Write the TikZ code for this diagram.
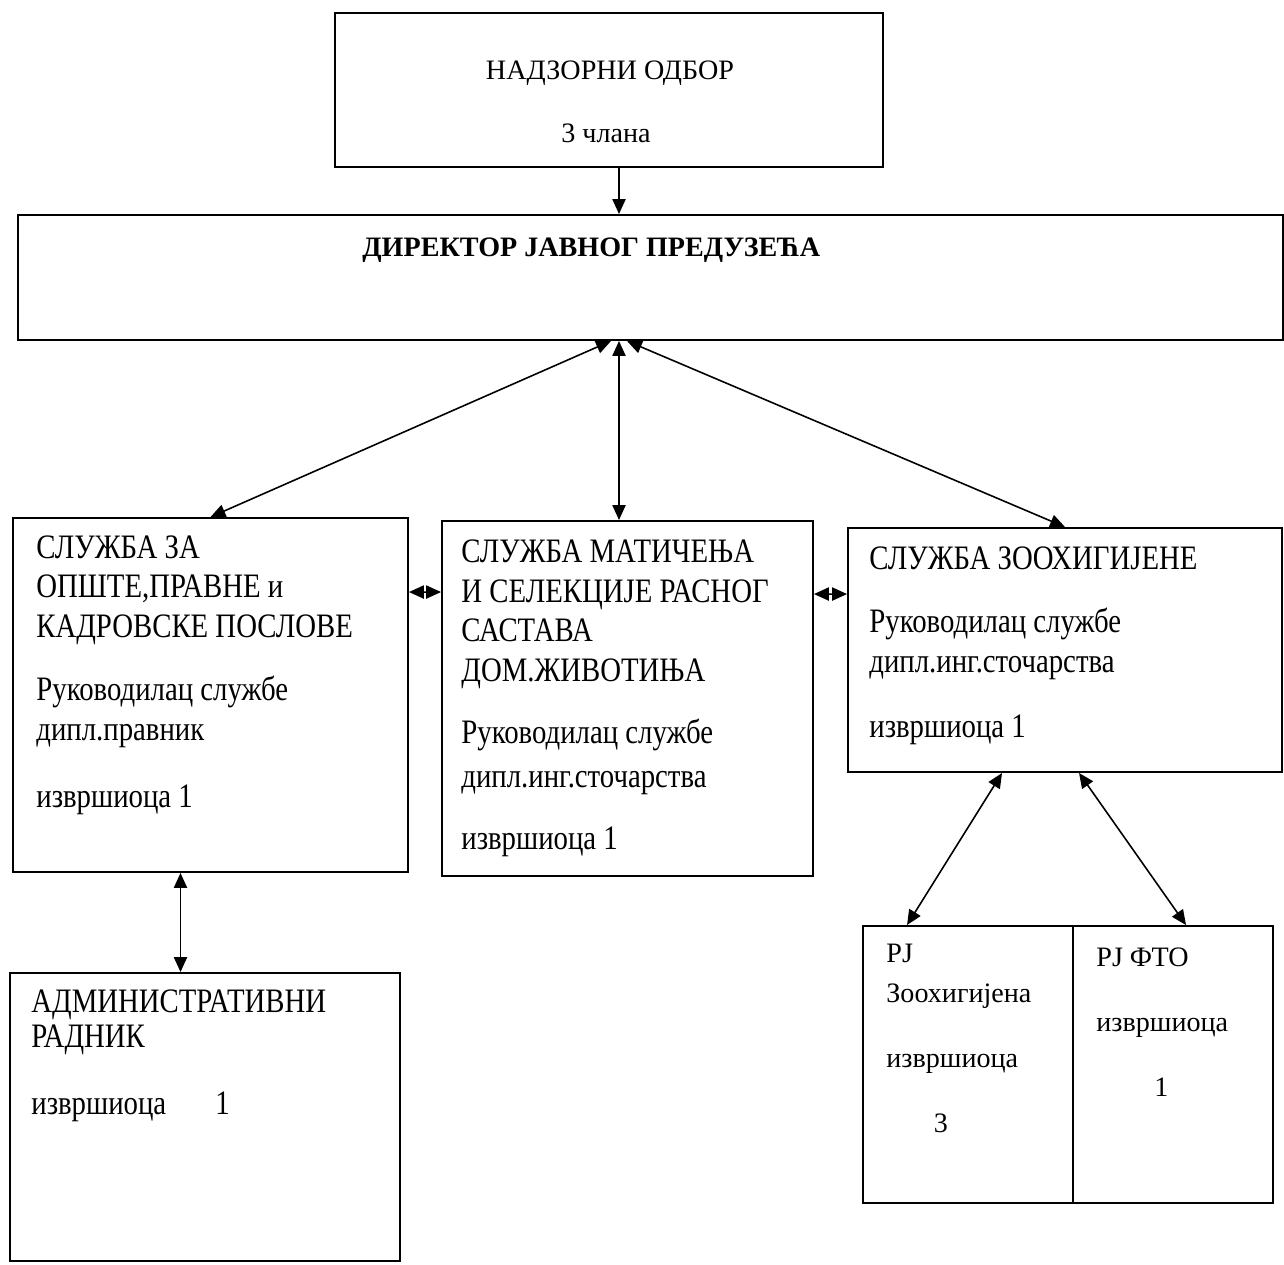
\documentclass[tikz,border=0pt]{standalone}
\usepackage{fontspec}
\setmainfont{Liberation Serif}
\newfontfamily\tallfont[FakeStretch=0.84]{Liberation Serif}
\usetikzlibrary{arrows.meta,fit}

\tikzset{
	box/.style={draw, line width=1.1pt, inner sep=0pt},
	txt/.style={inner sep=0pt, anchor=base west, align=left},
	unitfont/.style={font=\tallfont\fontsize{19.5}{22.5}\selectfont},
	pjfont/.style={font=\fontsize{16}{22.5}\selectfont},
	tip/.style={line width=0.9pt, -{Triangle[length=8.5pt,width=7.5pt]}},
	link/.style={line width=0.9pt, {Triangle[length=8.5pt,width=7.5pt]}-{Triangle[length=8.5pt,width=7.5pt]}}
}

\begin{document}
\begin{tikzpicture}[x=0.02cm, y=-0.02cm]
	\useasboundingbox (0,0) rectangle (1284,1264);
	\node[box, fit={(335,13) (883,167)}] (sup) {};
	\node[box, fit={(18,215) (1283,340)}] (dir) {};
	\node[box, fit={(13,518) (408,872)}] (ops) {};
	\node[box, fit={(442,521) (813,876)}] (mat) {};
	\node[box, fit={(848,528) (1282,772)}] (zoo) {};
	\node[box, fit={(10,973) (400,1261)}] (adm) {};
	\node[box, fit={(863,926) (1073,1203)}] (pja) {};
	\node[box, fit={(1073,926) (1273,1203)}] (pjb) {};

	\node[txt, pjfont, anchor=base] (supa) at ([shift={(1,67)}]sup.north) {НАДЗОРНИ ОДБОР};
	\node[txt, pjfont, anchor=base] (supb) at ([shift={(-3,130)}]sup.north) {3 члана};
	\node[txt, font=\bfseries\fontsize{16}{19}\selectfont] (dira) at ([shift={(345,42)}]dir.north west) {ДИРЕКТОР ЈАВНОГ ПРЕДУЗЕЋА};
	\node[txt, unitfont] (opsa) at ([shift={(24,290)}]ops.north west) {СЛУЖБА ЗА\\ОПШТЕ,ПРАВНЕ и\\КАДРОВСКЕ ПОСЛОВЕ\\[13.4pt]Руководилац службе\\дипл.правник\\[15.6pt]извршиоца 1};
	\node[txt, unitfont] (mata) at ([shift={(20,329)}]mat.north west) {СЛУЖБА МАТИЧЕЊА\\И СЕЛЕКЦИЈЕ РАСНОГ\\САСТАВА\\ДОМ.ЖИВОТИЊА\\[13.1pt]Руководилац службе\\[2pt]дипл.инг.сточарства\\[12.8pt]извршиоца 1};
	\node[txt, unitfont] (zooa) at ([shift={(22,210)}]zoo.north west) {СЛУЖБА ЗООХИГИЈЕНЕ\\[13.4pt]Руководилац службе\\дипл.инг.сточарства\\[14.5pt]извршиоца 1};
	\node[txt, unitfont] (adma) at ([shift={(22,142)}]adm.north west) {АДМИНИСТРАТИВНИ\\[-2.6pt]РАДНИК\\[15.6pt]извршиоца\hspace{28pt}1};
	\node[txt, pjfont] (pjat) at ([shift={(24,207)}]pja.north west) {PJ\\Зоохигијена\\[14.5pt]извршиоца\\[14.5pt]\hspace{27pt}3};
	\node[txt, pjfont] (pjbt) at ([shift={(24,171)}]pjb.north west) {PJ ФТО\\[15pt]извршиоца\\[14pt]\hspace{33pt}1};

	\draw[tip] ([shift={(10,0)}]sup.south) -- ([shift={(10,0)}]sup.south |- dir.north);
	\draw[link] ([shift={(2,0)}]sup.south |- dir.south) -- (ops.north);
	\draw[link] ([shift={(10,0)}]sup.south |- dir.south) -- ([shift={(10,0)}]sup.south |- mat.north);
	\draw[link] ([shift={(18,0)}]sup.south |- dir.south) -- (zoo.north);
	\draw[link] ([shift={(0,75)}]ops.north east) -- ([shift={(0,72)}]mat.north west);
	\draw[link] ([shift={(0,74)}]mat.north east) -- ([shift={(0,67)}]zoo.north west);
	\draw[link] ([shift={(-30,0)}]ops.south) -- ([shift={(-30,0)}]ops.south |- adm.north);
	\draw[link] ([shift={(155,0)}]zoo.south west) -- ([shift={(45,0)}]pja.north west);
	\draw[link] ([shift={(232,0)}]zoo.south west) -- ([shift={(114,0)}]pjb.north west);
\end{tikzpicture}
\end{document}
